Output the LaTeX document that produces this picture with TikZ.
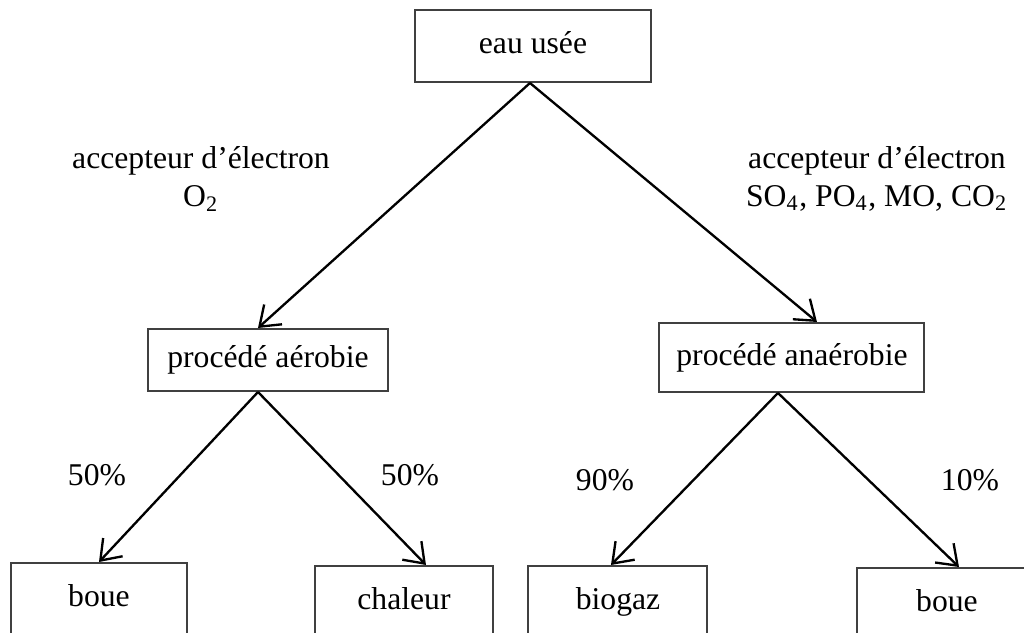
\documentclass[tikz,border=0pt]{standalone}
\usepackage{fontspec}
\setmainfont{Liberation Serif}
\usetikzlibrary{arrows.meta}

\begin{document}
\begin{tikzpicture}[x = 0.3pt, y = -0.3pt,
	boite/.style = {draw = black!75, line width = 0.6pt, inner sep = 0pt, text height = 6.6pt, text depth = 2pt, font = \fontsize{9.5}{11.4}\selectfont},
	fleche/.style = {-{Straight Barb[length = 5.5pt, width = 8pt]}, line width = 0.7pt, black},
	texte/.style = {align = center, inner sep = 0pt, font = \fontsize{9.5}{11.4}\selectfont}]

	\useasboundingbox (0, 0) rectangle (1024, 633);
	\clip (0, 0) rectangle (1024, 633); % les boites du bas sont coupées

	% Boites
	\node[boite, minimum width = 71.1pt, minimum height = 21.6pt] (eau) at (533, 46) {eau usée};
	\node[boite, minimum width = 72.0pt, minimum height = 18.6pt] (aer) at (268, 360) {procédé aérobie};
	\node[boite, minimum width = 79.5pt, minimum height = 20.7pt] (ana) at (792, 357.5) {procédé anaérobie};
	\node[boite, minimum width = 52.8pt, minimum height = 21.6pt] (boueG) at (99, 599) {boue};
	\node[boite, minimum width = 53.4pt, minimum height = 21.6pt] (chaleur) at (404, 602) {chaleur};
	\node[boite, minimum width = 53.7pt, minimum height = 21.6pt] (biogaz) at (618, 602) {biogaz};
	\node[boite, minimum width = 54.0pt, minimum height = 21.6pt] (boueD) at (947, 604) {boue};

	% Textes
	\node[texte] (accG) at (201, 179) {accepteur d’électron\\O\textsubscript{2}};
	\node[texte] (accD) at (877, 179) {accepteur d’électron\\SO\textsubscript{4}, PO\textsubscript{4}, MO, CO\textsubscript{2}};
	\node[texte] (pcA) at (97, 475) {50\%};
	\node[texte] (pcB) at (410, 475) {50\%};
	\node[texte] (pcC) at (605, 480) {90\%};
	\node[texte] (pcD) at (970, 480) {10\%};

	% Flèches
	\draw[fleche] ([xshift = -0.9pt]eau.south) -- ([xshift = -3pt]aer.north);
	\draw[fleche] ([xshift = -0.9pt]eau.south) -- ([xshift = 7.5pt]ana.north);
	\draw[fleche] ([xshift = -3pt]aer.south) -- (boueG.north);
	\draw[fleche] ([xshift = -3pt]aer.south) -- ([xshift = 6.6pt]chaleur.north);
	\draw[fleche] ([xshift = -4.2pt]ana.south) -- ([xshift = -2.1pt]biogaz.north);
	\draw[fleche] ([xshift = -4.2pt]ana.south) -- ([xshift = 3.6pt]boueD.north);

\end{tikzpicture}
\end{document}
